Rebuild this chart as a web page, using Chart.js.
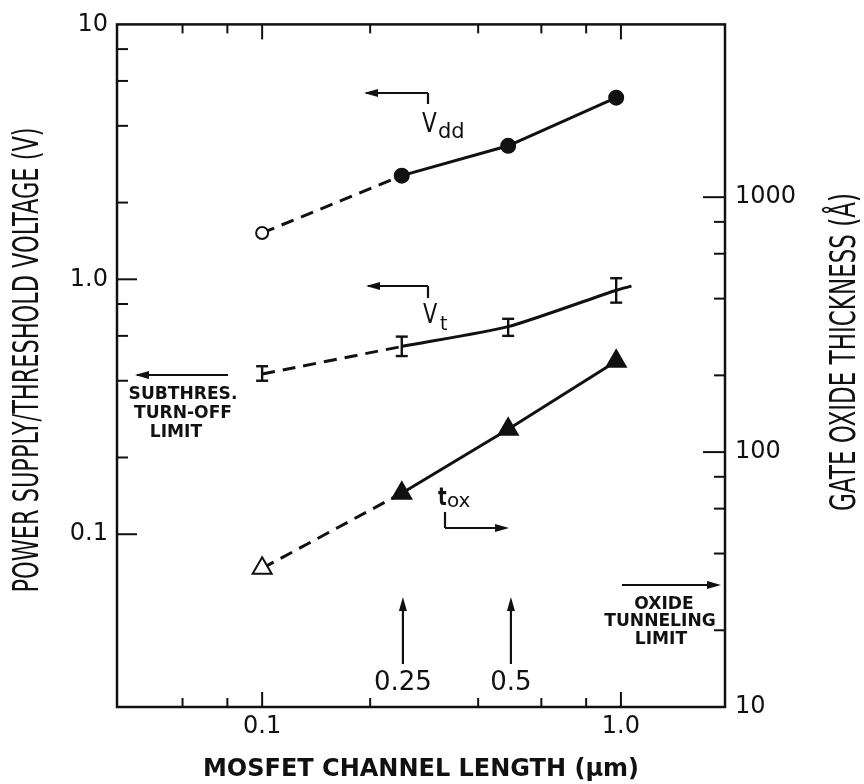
<!DOCTYPE html>
<html>
<head>
<meta charset="utf-8">
<script src="https://cdn.jsdelivr.net/npm/chart.js@4.4.1/dist/chart.umd.min.js"></script>
<style>
  html, body { margin: 0; padding: 0; background: #fff; }
  #wrap { width: 864px; height: 784px; }
</style>
</head>
<body>
<div id="wrap"><canvas id="fig" width="864" height="784"></canvas></div>
<script>
// channel length (um) of the plotted points
var lengthUm = [0.1, 0.245, 0.485, 0.97];
// power supply voltage (V)
var vdd = [1.52, 2.55, 3.34, 5.16];
// threshold voltage (V), last point only carries the line on past 1.0
var vtLength = [0.1, 0.245, 0.485, 0.97, 1.07];
var vt = [0.425, 0.545, 0.652, 0.906, 0.94];
var vtLow = [0.40, 0.50, 0.60, 0.81];
var vtHigh = [0.456, 0.596, 0.70, 1.01];
// gate oxide thickness (A), right axis
var tox = [35, 69, 123, 227];

var xTicks = [0.06, 0.08, 0.1, 0.2, 0.4, 0.6, 0.8, 1.0];
var xLabels = {0.1: "0.1", 1: "1.0"};
var yTicks = [0.1, 0.2, 0.4, 0.6, 0.8, 1, 2, 4, 6, 8, 10];
var yLabels = {0.1: "0.1", 1: "1.0", 10: "10"};
var y2Ticks = [10, 20, 40, 60, 80, 100, 200, 400, 600, 800, 1000];
var y2Labels = {10: "10", 100: "100", 1000: "1000"};

var FONT = "'DejaVu Sans', sans-serif";
var INK = "#111";

function pts(xs, ys) {
  return ys.map(function(v, i) { return {x: xs[i], y: v}; });
}

// dashed below 0.25 um, solid after
function dashFirst(ctx) {
  return ctx.p0DataIndex === 0 ? [13, 8] : undefined;
}

function line(ctx, x1, y1, x2, y2) {
  ctx.beginPath(); ctx.moveTo(x1, y1); ctx.lineTo(x2, y2); ctx.stroke();
}

function head(ctx, x, y, dx, dy) {
  // narrow filled arrow head, tip at x,y pointing along dx,dy
  var L = 14, W = 4;
  ctx.beginPath();
  ctx.moveTo(x, y);
  ctx.lineTo(x - dx * L - dy * W, y - dy * L + dx * W);
  ctx.lineTo(x - dx * L + dy * W, y - dy * L - dx * W);
  ctx.closePath();
  ctx.fill();
}

function text(ctx, s, x, y, font, align, sx) {
  ctx.save();
  ctx.font = font;
  ctx.textAlign = align || "center";
  ctx.textBaseline = "alphabetic";
  ctx.translate(x, y);
  if (sx) ctx.scale(sx, 1);
  ctx.fillText(s, 0, 0);
  ctx.restore();
}

// tall narrow rotated axis titles
function sideTitle(ctx, s, cx, cy, size, len) {
  ctx.save();
  ctx.font = size + "px " + FONT;
  var w = ctx.measureText(s).width;
  ctx.translate(cx, cy);
  ctx.rotate(-Math.PI / 2);
  ctx.scale(len / w, 1);
  ctx.textAlign = "center";
  ctx.textBaseline = "middle";
  ctx.fillText(s, 0, 0);
  ctx.restore();
}

var figure = {
  id: "figure",
  afterDatasetsDraw: function(chart) {
    var ctx = chart.ctx;
    var xs = chart.scales.x, ys = chart.scales.y;
    ctx.save();
    ctx.strokeStyle = INK;
    ctx.lineWidth = 2.4;
    vtLow.forEach(function(lo, i) {
      var px = xs.getPixelForValue(vtLength[i]);
      var a = ys.getPixelForValue(lo), b = ys.getPixelForValue(vtHigh[i]);
      line(ctx, px, a, px, b);
      line(ctx, px - 6, a, px + 6, a);
      line(ctx, px - 6, b, px + 6, b);
    });
    ctx.restore();
  },
  afterDraw: function(chart) {
    var ctx = chart.ctx, a = chart.chartArea;
    var xs = chart.scales.x, ys = chart.scales.y, y2 = chart.scales.y2;
    ctx.save();
    ctx.strokeStyle = INK;
    ctx.fillStyle = INK;

    // frame
    ctx.lineWidth = 2.5;
    ctx.strokeRect(a.left, a.top, a.right - a.left, a.bottom - a.top);

    // inward tick marks
    ctx.lineWidth = 2;
    xs.ticks.forEach(function(t) {
      var p = xs.getPixelForValue(t.value);
      var n = xLabels[t.value] ? 15 : 9;
      line(ctx, p, a.bottom, p, a.bottom - n);
      line(ctx, p, a.top, p, a.top + n);
    });
    ys.ticks.forEach(function(t) {
      var p = ys.getPixelForValue(t.value);
      if (p <= a.top + 1) return;
      line(ctx, a.left, p, a.left + (yLabels[t.value] ? 20 : 11), p);
    });
    y2.ticks.forEach(function(t) {
      var p = y2.getPixelForValue(t.value);
      if (p >= a.bottom - 1) return;
      line(ctx, a.right, p, a.right - (y2Labels[t.value] ? 22 : 11), p);
    });

    // series labels and their direction arrows
    ctx.lineWidth = 2.2;
    line(ctx, 366, 93, 428, 93); line(ctx, 428, 93, 428, 104); head(ctx, 364, 93, -1, 0);
    text(ctx, "V", 422, 132, "27px " + FONT, "left", 0.8);
    text(ctx, "dd", 438, 138, "21px " + FONT, "left");

    line(ctx, 368, 286, 428, 286); line(ctx, 428, 286, 428, 298); head(ctx, 366, 286, -1, 0);
    text(ctx, "V", 423, 323, "26px " + FONT, "left", 0.8);
    text(ctx, "t", 440, 330, "19px " + FONT, "left");

    text(ctx, "t", 438, 505, "bold 24px " + FONT, "left", 0.75);
    text(ctx, "ox", 447, 507, "20px " + FONT, "left");
    line(ctx, 445, 512, 445, 528); line(ctx, 445, 528, 506, 528); head(ctx, 509, 528, 1, 0);

    // limits
    line(ctx, 137, 375, 228, 375); head(ctx, 135, 375, -1, 0);
    var bold = "bold 18px " + FONT;
    text(ctx, "SUBTHRES.", 183, 399, bold, "center", 0.95);
    text(ctx, "TURN-OFF", 183, 418, bold, "center", 0.95);
    text(ctx, "LIMIT", 176, 437, bold, "center", 0.95);

    line(ctx, 622, 585, 718, 585); head(ctx, 721, 585, 1, 0);
    text(ctx, "OXIDE", 664, 609, bold, "center", 0.95);
    text(ctx, "TUNNELING", 660, 626, bold, "center", 0.95);
    text(ctx, "LIMIT", 661, 644, bold, "center", 0.95);

    // channel lengths of interest
    [[0.25, "0.25"], [0.5, "0.5"]].forEach(function(m) {
      var p = xs.getPixelForValue(m[0]) - 2;
      line(ctx, p, 664, p, 602); head(ctx, p, 597, 0, -1);
      text(ctx, m[1], p, 690, "26px " + FONT, "center");
    });

    // axis titles
    sideTitle(ctx, "POWER SUPPLY/THRESHOLD VOLTAGE (V)", 29, 360, 36, 465);
    sideTitle(ctx, "GATE OXIDE THICKNESS (\u00c5)", 846, 352, 36, 318);
    ctx.restore();
  }
};

var tickFont = {family: FONT, size: 24};

new Chart(document.getElementById("fig"), {
  type: "line",
  data: {
    datasets: [
      {
        label: "Vdd",
        data: pts(lengthUm, vdd),
        yAxisID: "y",
        borderColor: INK,
        borderWidth: 3,
        pointStyle: "circle",
        pointRadius: [6, 7, 7, 7],
        pointBackgroundColor: ["#fff", INK, INK, INK],
        pointBorderColor: INK,
        pointBorderWidth: 2,
        segment: {borderDash: dashFirst}
      },
      {
        label: "Vt",
        data: pts(vtLength, vt),
        yAxisID: "y",
        borderColor: INK,
        borderWidth: 3,
        pointRadius: 0,
        tension: 0.2,
        segment: {borderDash: dashFirst}
      },
      {
        label: "tox",
        data: pts(lengthUm, tox),
        yAxisID: "y2",
        borderColor: INK,
        borderWidth: 3,
        pointStyle: "triangle",
        pointRadius: 11,
        pointBackgroundColor: ["#fff", INK, INK, INK],
        pointBorderColor: INK,
        pointBorderWidth: 2,
        segment: {borderDash: dashFirst}
      }
    ]
  },
  options: {
    responsive: false,
    animation: false,
    layout: {padding: {top: 16, left: 0, right: 0, bottom: 0}},
    plugins: {legend: {display: false}, tooltip: {enabled: false}},
    scales: {
      x: {
        type: "logarithmic",
        position: "bottom",
        min: 0.0394,
        max: 1.95,
        bounds: "data",
        afterBuildTicks: function(s) { s.ticks = xTicks.map(function(v) { return {value: v}; }); },
        afterFit: function(s) { s.height = 77; },
        grid: {display: false, drawTicks: false},
        border: {display: false},
        ticks: {
          autoSkip: false, maxRotation: 0, padding: 5, color: INK, font: tickFont,
          callback: function(v) { return xLabels[v] || ""; }
        },
        title: {
          display: true, text: "MOSFET CHANNEL LENGTH (\u03bcm)", color: INK,
          font: {family: FONT, size: 24, weight: "bold"}, padding: {top: 0, bottom: 0}
        }
      },
      y: {
        type: "logarithmic",
        position: "left",
        min: 0.021,
        max: 10,
        bounds: "data",
        afterBuildTicks: function(s) { s.ticks = yTicks.map(function(v) { return {value: v}; }); },
        afterFit: function(s) { s.width = 117; },
        grid: {display: false, drawTicks: false},
        border: {display: false},
        ticks: {
          autoSkip: false, padding: 9, color: INK, font: tickFont,
          callback: function(v) { return yLabels[v] || ""; }
        }
      },
      y2: {
        type: "logarithmic",
        position: "right",
        min: 10,
        max: 4762,
        bounds: "data",
        afterBuildTicks: function(s) { s.ticks = y2Ticks.map(function(v) { return {value: v}; }); },
        afterFit: function(s) { s.width = 139; },
        grid: {display: false, drawTicks: false},
        border: {display: false},
        ticks: {
          autoSkip: false, padding: 10, color: INK, font: tickFont,
          callback: function(v) { return y2Labels[v] || ""; }
        }
      }
    }
  },
  plugins: [figure]
});
</script>
</body>
</html>
